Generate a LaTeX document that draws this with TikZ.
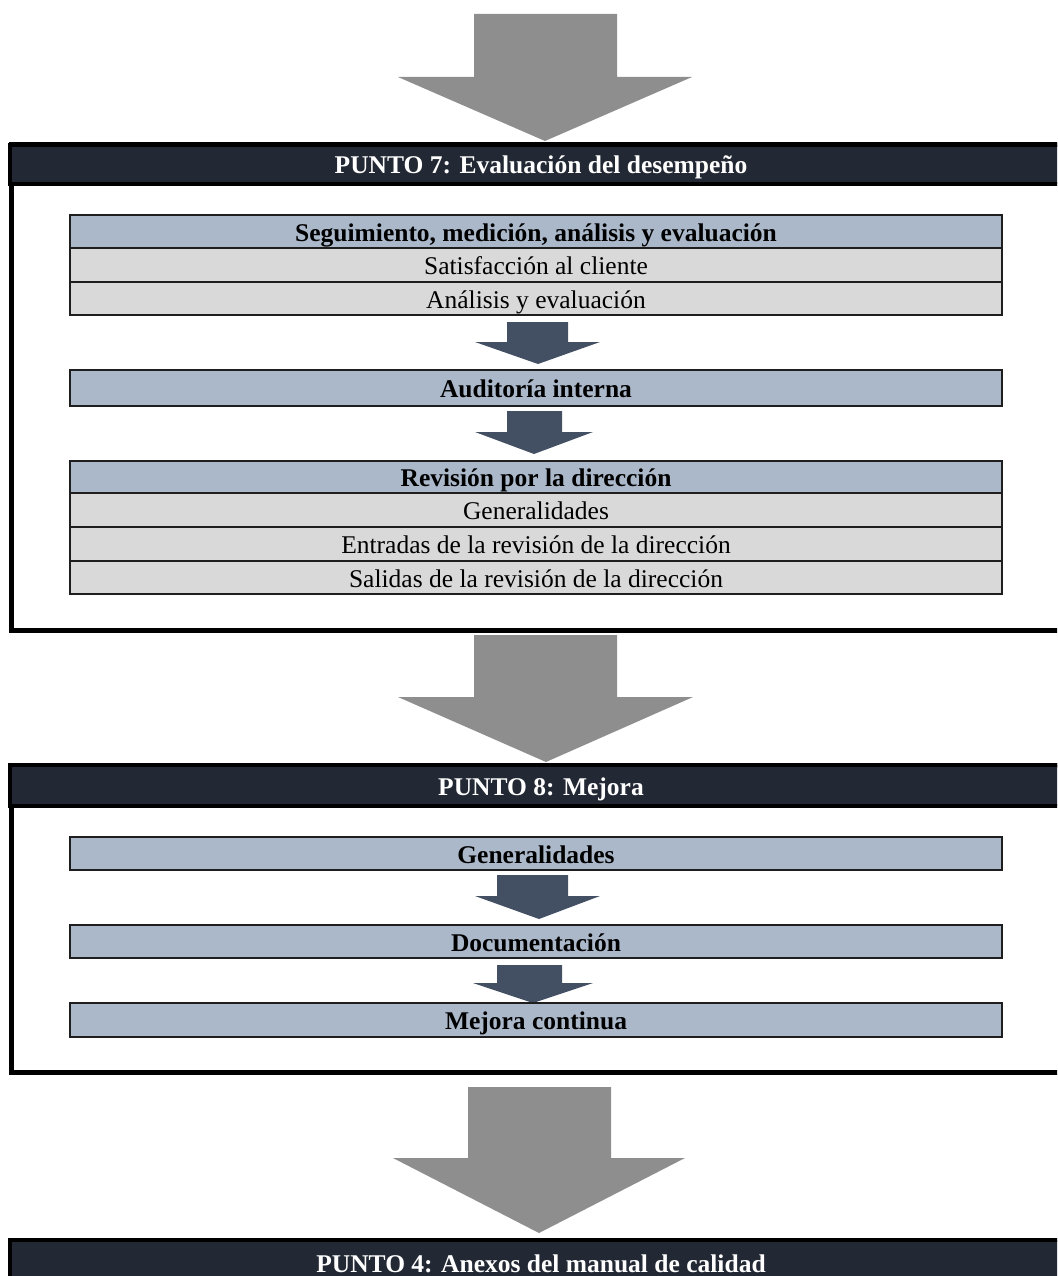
\documentclass[tikz,border=0pt]{standalone}
\usepackage{fontspec}
\setmainfont{Liberation Serif}
\definecolor{bigarrow}{HTML}{8E8E8E}
\definecolor{smallarrow}{HTML}{435063}
\definecolor{headdark}{HTML}{232934}
\definecolor{subhead}{HTML}{ABB8CA}
\definecolor{rowgray}{HTML}{D9D9D9}
\definecolor{boxline}{HTML}{1E1E1E}
\begin{document}
\begin{tikzpicture}[x=1pt,y=-1pt,
  font=\fontsize{25.5}{30}\selectfont,
  frame/.style={draw=black,line width=5pt},
  bandhead/.style={fill=headdark,draw=black,line width=4.5pt,text=white,
    font=\fontsize{25.5}{30}\selectfont\bfseries,inner sep=0pt,
    minimum width=1062pt,text height=21pt,text depth=2pt},
  inbox/.style={draw=boxline,line width=2.5pt,inner sep=0pt,
    minimum width=932pt,text height=21pt,text depth=2pt},
  subbox/.style={inbox,fill=subhead,font=\fontsize{25.5}{30}\selectfont\bfseries},
  rowbox/.style={inbox,fill=rowgray},
  bigarr/.style={fill=bigarrow},
  smallarr/.style={fill=smallarrow}]
\useasboundingbox (0,0) rectangle (1057,1276);
\begin{scope}
\clip (0,0) rectangle (1057,1276);

% large grey block arrows between sections
\fill[bigarr] (474,14) -- (617,14) -- (617,77) -- (692,77) -- (545,141)
  -- (398,77) -- (474,77) -- cycle;
\fill[bigarr] (474,635) -- (617,635) -- (617,697) -- (693,697) -- (546,762)
  -- (398,697) -- (474,697) -- cycle;
\fill[bigarr] (468,1087) -- (611,1087) -- (611,1158) -- (685,1158) -- (539,1233)
  -- (393,1158) -- (468,1158) -- cycle;

% section 7
\draw[frame] (11,145) rectangle (1072,630);
\node[bandhead,minimum height=39pt] (h7) at (541,164.5) {PUNTO 7: Evaluación del desempeño};

\fill[smallarr] (507,322) -- (568,322) -- (568,342) -- (600,342) -- (538,364)
  -- (475,342) -- (507,342) -- cycle;
\fill[smallarr] (507,411) -- (562,411) -- (562,432) -- (593,432) -- (534,454)
  -- (475,432) -- (507,432) -- cycle;

\node[subbox,minimum height=33pt] (seg) at (536,231.5) {Seguimiento, medición, análisis y evaluación};
\node[rowbox,minimum height=34pt] (sat) at (536,265) {Satisfacción al cliente};
\node[rowbox,minimum height=33pt] (ana) at (536,298.5) {Análisis y evaluación};
\node[subbox,minimum height=36pt] (aud) at (536,388) {Auditoría interna};
\node[subbox,minimum height=32pt] (rev) at (536,477) {Revisión por la dirección};
\node[rowbox,minimum height=34pt] (gen7) at (536,510) {Generalidades};
\node[rowbox,minimum height=34pt] (ent) at (536,544) {Entradas de la revisión de la dirección};
\node[rowbox,minimum height=33pt] (sal) at (536,577.5) {Salidas de la revisión de la dirección};

% section 8
\draw[frame] (11,765) rectangle (1072,1072);
\node[bandhead,minimum height=41pt] (h8) at (541,785.5) {PUNTO 8: Mejora};

\fill[smallarr] (497,875) -- (568,875) -- (568,896) -- (600,896) -- (539,919)
  -- (475,896) -- (497,896) -- cycle;
\fill[smallarr] (497,965) -- (562,965) -- (562,983) -- (593,983) -- (533,1003)
  -- (473,983) -- (497,983) -- cycle;

\node[subbox,minimum height=33pt] (gen8) at (536,853.5) {Generalidades};
\node[subbox,minimum height=33pt] (doc) at (536,941.5) {Documentación};
\node[subbox,minimum height=34pt] (mej) at (536,1020) {Mejora continua};

% section 4
\node[bandhead,minimum height=45pt] (h4) at (541,1262.5) {PUNTO 4: Anexos del manual de calidad};
\end{scope}
\end{tikzpicture}
\end{document}
